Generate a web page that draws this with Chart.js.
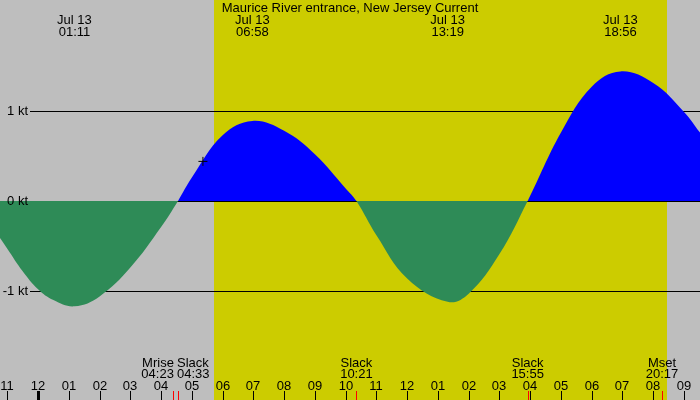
<!DOCTYPE html>
<html>
<head>
<meta charset="utf-8">
<script src="https://cdn.jsdelivr.net/npm/chart.js@4"></script>
<style>
  body { margin: 0; background: #bebebe; }
  #tide { display: block; }
</style>
</head>
<body>
<canvas id="tide" width="700" height="400"></canvas>
<script>
// hours are counted from midnight, Jul 13
const curveHours = [-1.24, -1, -0.5, 0, 0.5, 1 + 11 / 60, 2, 3, 4, 4 + 33 / 60, 5, 6, 6 + 58 / 60, 8, 9, 10, 10 + 21 / 60, 11, 12, 13 + 19 / 60, 14, 15, 15 + 55 / 60, 17, 18, 18 + 56 / 60, 20, 21, 21.52];
const curveKnots = [-0.41, -0.53, -0.78, -0.98, -1.10, -1.17, -1.06, -0.74, -0.29, 0, 0.26, 0.73, 0.89, 0.78, 0.52, 0.14, 0, -0.38, -0.86, -1.12, -1.03, -0.59, 0, 0.76, 1.27, 1.44, 1.31, 0.99, 0.76];

const peakHours = [1 + 11 / 60, 6 + 58 / 60, 13 + 19 / 60, 18 + 56 / 60];
const peakLabels = ["01:11", "06:58", "13:19", "18:56"];

const eventHours = [4 + 23 / 60, 4 + 33 / 60, 10 + 21 / 60, 15 + 55 / 60, 20 + 17 / 60];
const eventNames = ["Mrise", "Slack", "Slack", "Slack", "Mset"];
const eventTimes = ["04:23", "04:33", "10:21", "15:55", "20:17"];
const eventAlign = ["right", "left", "center", "center", "center"];

const hourTicks = [-1, 0, 1, 2, 3, 4, 5, 6, 7, 8, 9, 10, 11, 12, 13, 14, 15, 16, 17, 18, 19, 20, 21];
const hourLabels = ["11", "12", "01", "02", "03", "04", "05", "06", "07", "08", "09", "10", "11", "12", "01", "02", "03", "04", "05", "06", "07", "08", "09"];

const ktLevels = [1, 0, -1];
const ktLabels = ["1 kt", "0 kt", "-1 kt"];

const sunrise = 5 + 43 / 60;
const sunset = 20 + 27 / 60;
const nowMark = { x: 5.36, y: 0.44 };

const FONT = '13px "Liberation Sans", Arial, sans-serif';

const tideDecor = {
  id: "tideDecor",
  beforeDraw(chart) {
    const { ctx, scales: { x, y } } = chart;
    ctx.save();
    ctx.fillStyle = "#bebebe";
    ctx.fillRect(0, 0, chart.width, chart.height);
    const x1 = x.getPixelForValue(sunrise);
    const x2 = x.getPixelForValue(sunset);
    ctx.fillStyle = "#cccc00";
    ctx.fillRect(Math.round(x1), 0, Math.round(x2) - Math.round(x1), chart.height);
    ctx.strokeStyle = "#000";
    ctx.lineWidth = 1;
    ktLevels.forEach(v => {
      const py = Math.round(y.getPixelForValue(v)) + 0.5;
      ctx.beginPath();
      ctx.moveTo(30, py);
      ctx.lineTo(chart.width, py);
      ctx.stroke();
    });
    ctx.restore();
  },
  afterDatasetsDraw(chart) {
    const { ctx, scales: { x, y } } = chart;
    ctx.save();
    ctx.font = FONT;
    ctx.fillStyle = "#000";
    ctx.textBaseline = "alphabetic";

    // title + peak labels
    ctx.textAlign = "center";
    ctx.fillText("Maurice River entrance, New Jersey Current", 350, 12);
    peakHours.forEach((h, i) => {
      const px = x.getPixelForValue(h);
      ctx.fillText("Jul 13", px, 24);
      ctx.fillText(peakLabels[i], px, 36);
    });

    // kt labels
    ctx.textAlign = "right";
    ctx.textBaseline = "middle";
    ktLevels.forEach((v, i) => {
      ctx.fillText(ktLabels[i], 28, y.getPixelForValue(v));
    });

    // hour ticks
    ctx.textBaseline = "alphabetic";
    ctx.textAlign = "center";
    hourTicks.forEach((h, i) => {
      const px = Math.round(x.getPixelForValue(h));
      ctx.fillText(hourLabels[i], px, 390);
      ctx.fillRect(h === 0 ? px - 1 : px, 391, h === 0 ? 3 : 1, 9);
    });

    // events: moon and slack water
    eventHours.forEach((h, i) => {
      const px = x.getPixelForValue(h);
      let tx = px;
      if (eventAlign[i] === "right") tx = px + 1;
      if (eventAlign[i] === "left") tx = px - 1;
      ctx.textAlign = eventAlign[i];
      ctx.fillStyle = "#000";
      ctx.fillText(eventNames[i], tx, 367);
      ctx.fillText(eventTimes[i], tx, 378);
      ctx.fillStyle = "#ff0000";
      ctx.fillRect(Math.round(px), 391, 1, 9);
    });
    ctx.restore();
  }
};

new Chart(document.getElementById("tide"), {
  type: "line",
  data: {
    datasets: [
      {
        type: "scatter",
        data: [nowMark],
        pointStyle: "cross",
        pointRadius: 4.5,
        borderColor: "#000",
        borderWidth: 1,
        backgroundColor: "#000",
      },
      {
        data: curveHours.map((h, i) => ({ x: h, y: curveKnots[i] })),
        borderColor: "rgba(0,0,0,0)",
        borderWidth: 0,
        pointRadius: 0,
        tension: 0.4,
        fill: { target: "origin", above: "#0000ff", below: "#2e8b57" },
      },
    ],
  },
  options: {
    responsive: false,
    animation: false,
    layout: { padding: 0, autoPadding: false },
    plugins: {
      legend: { display: false },
      tooltip: { enabled: false },
      title: { display: false },
    },
    scales: {
      x: { type: "linear", min: -1.2373, max: 21.52, display: false },
      y: { min: -2.211, max: 2.233, display: false },
    },
  },
  plugins: [tideDecor],
});
</script>
</body>
</html>
